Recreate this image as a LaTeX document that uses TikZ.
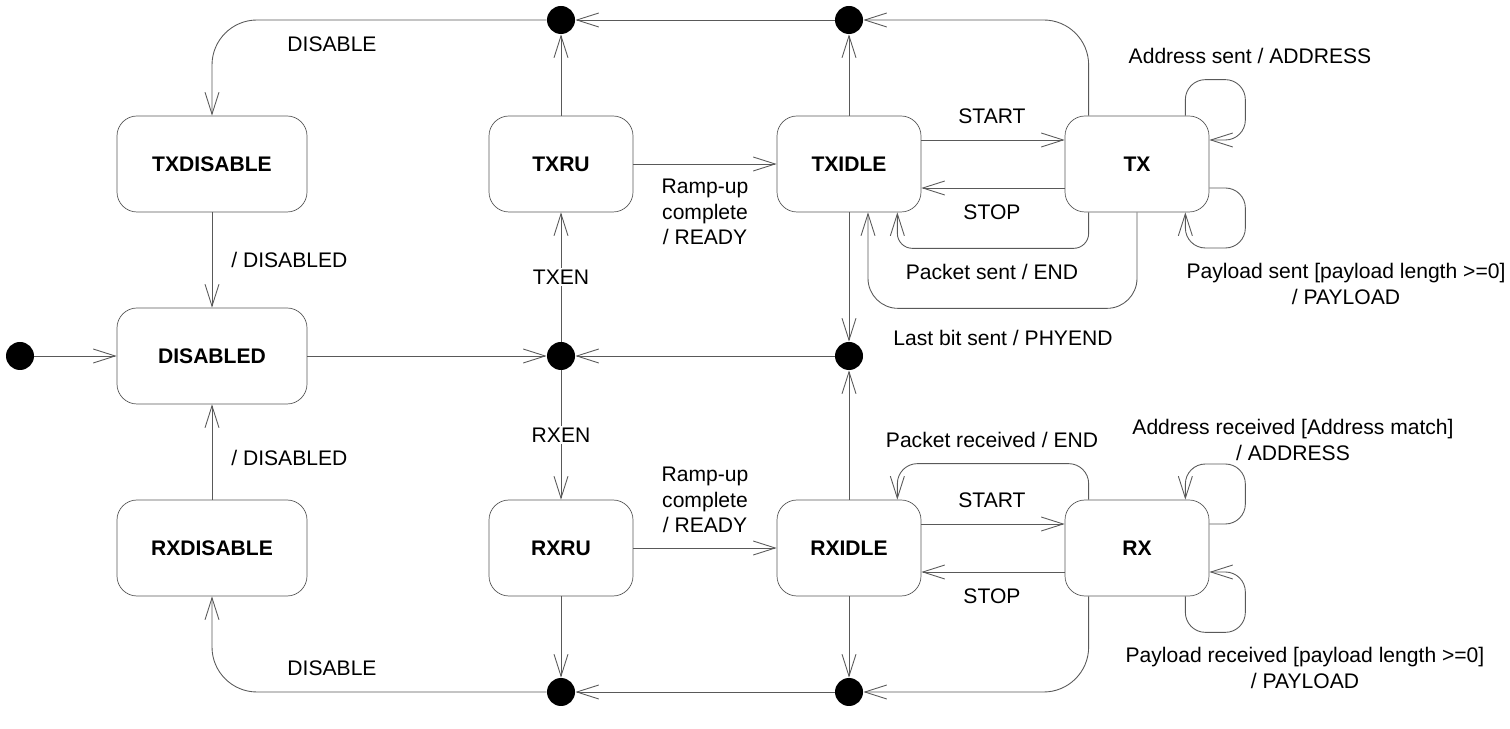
\documentclass[tikz,border=0pt]{standalone}
\usepackage{fontspec}
\setmainfont{Liberation Sans}
\usetikzlibrary{arrows.meta}

\begin{document}
\fontsize{12}{14.5}\selectfont
\begin{tikzpicture}[x=0.2mm,y=-0.2mm,
        state/.style={draw=black!65, rounded corners=4mm, minimum width=28.8mm, minimum height=19.2mm, font=\bfseries, inner sep=0pt},
        junction/.style={circle, fill=black, minimum size=5.6mm, inner sep=0pt},
        trans/.style={draw=black!65, line width=0.5pt, -{Straight Barb[length=4.4mm,width=2.8mm]}},
        lbl/.style={align=center}]
        \useasboundingbox (0,0) rectangle (1510,729);

        % States
        \node[state, minimum width=38mm] (txdis) at (212,164) {TXDISABLE};
        \node[state, minimum width=38mm] (disabled) at (212,356) {DISABLED};
        \node[state, minimum width=38mm] (rxdis) at (212,548) {RXDISABLE};
        \node[state] (txru) at (561,164) {TXRU};
        \node[state] (rxru) at (561,548) {RXRU};
        \node[state] (txidle) at (849,164) {TXIDLE};
        \node[state] (rxidle) at (849,548) {RXIDLE};
        \node[state] (tx) at (1137,164) {TX};
        \node[state] (rx) at (1137,548) {RX};

        % Junction points and initial state
        \node[junction] (init) at (20,356) {};
        \node[junction] (ttx) at (561,20) {};
        \node[junction] (tidle) at (849,20) {};
        \node[junction] (mru) at (561,356) {};
        \node[junction] (midle) at (849,356) {};
        \node[junction] (bru) at (561,692) {};
        \node[junction] (bidle) at (849,692) {};

        % Enable and ramp-up
        \draw[trans] (init) -- (disabled);
        \draw[trans] (disabled) -- (mru);
        \draw[trans] (mru) -- node[fill=white, inner sep=1pt] {TXEN} (txru);
        \draw[trans] (mru) -- node[fill=white, inner sep=1pt] {RXEN} (rxru);
        \draw[trans] (txru) -- (txidle);
        \draw[trans] (rxru) -- (rxidle);
        \node[lbl] at (705,212) {Ramp-up\\complete\\/ READY};
        \node[lbl] at (705,500) {Ramp-up\\complete\\/ READY};

        % Disable paths
        \draw[trans] (txru) -- (ttx);
        \draw[trans] (rxru) -- (bru);
        \draw[trans] (txidle) -- (tidle);
        \draw[trans] (rxidle) -- (bidle);
        \draw[trans] (tidle) -- (ttx);
        \draw[trans] (bidle) -- (bru);
        \draw[trans, rounded corners=9mm] ([xshift=4.8mm]tx.north west) |- (tidle);
        \draw[trans, rounded corners=9mm] ([xshift=4.8mm]rx.south west) |- (bidle);
        \draw[trans, rounded corners=9mm] (ttx) -| (txdis);
        \draw[trans, rounded corners=9mm] (bru) -| (rxdis);
        \node at (332,44) {DISABLE};
        \node at (332,668) {DISABLE};
        \draw[trans] (txdis) -- (disabled);
        \draw[trans] (rxdis) -- (disabled);
        \node[anchor=west] at (224,260) {/ DISABLED};
        \node[anchor=west] at (224,458) {/ DISABLED};

        % End of packet
        \draw[trans] (txidle) -- (midle);
        \draw[trans] (rxidle) -- (midle);
        \draw[trans] (midle) -- (mru);
        \node at (1003,338) {Last bit sent / PHYEND};

        % TX side
        \draw[trans] ([yshift=4.8mm]txidle.east) -- ([yshift=4.8mm]tx.west);
        \draw[trans] ([yshift=-4.8mm]tx.west) -- ([yshift=-4.8mm]txidle.east);
        \node at (992,116) {START};
        \node at (992,212) {STOP};
        \draw[trans, rounded corners=3mm] ([xshift=4.8mm]tx.south west) -- ++(0,36) -| ([xshift=-4.8mm]txidle.south east);
        \draw[trans, rounded corners=6mm] (tx.south) -- ++(0,96) -| ([xshift=3.8mm]txidle.south);
        \node at (992,272) {Packet sent / END};
        \draw[trans, rounded corners=4mm] ([xshift=-4.8mm]tx.north east) -- ++(0,-36) -- ++(60,0) |- ([yshift=4.8mm]tx.east);
        \draw[trans, rounded corners=4mm] ([yshift=-4.8mm]tx.east) -- ++(36,0) -- ++(0,60) -| ([xshift=-4.8mm]tx.south east);
        \node at (1250,56) {Address sent / ADDRESS};
        \node[lbl] at (1346,284) {Payload sent [payload length >=0]\\/ PAYLOAD};

        % RX side
        \draw[trans] ([yshift=4.8mm]rxidle.east) -- ([yshift=4.8mm]rx.west);
        \draw[trans] ([yshift=-4.8mm]rx.west) -- ([yshift=-4.8mm]rxidle.east);
        \node at (992,500) {START};
        \node at (992,596) {STOP};
        \draw[trans, rounded corners=4mm] ([xshift=4.8mm]rx.north west) -- ++(0,-36) -| ([xshift=-4.8mm]rxidle.north east);
        \node at (992,440) {Packet received / END};
        \draw[trans, rounded corners=4mm] ([yshift=4.8mm]rx.east) -- ++(36,0) -- ++(0,-60) -| ([xshift=-4.8mm]rx.north east);
        \draw[trans, rounded corners=4mm] ([xshift=-4.8mm]rx.south east) -- ++(0,36) -- ++(60,0) |- ([yshift=-4.8mm]rx.east);
        \node[lbl] at (1293,440) {Address received [Address match]\\/ ADDRESS};
        \node[lbl] at (1305,668) {Payload received [payload length >=0]\\/ PAYLOAD};

    \end{tikzpicture}
\end{document}
